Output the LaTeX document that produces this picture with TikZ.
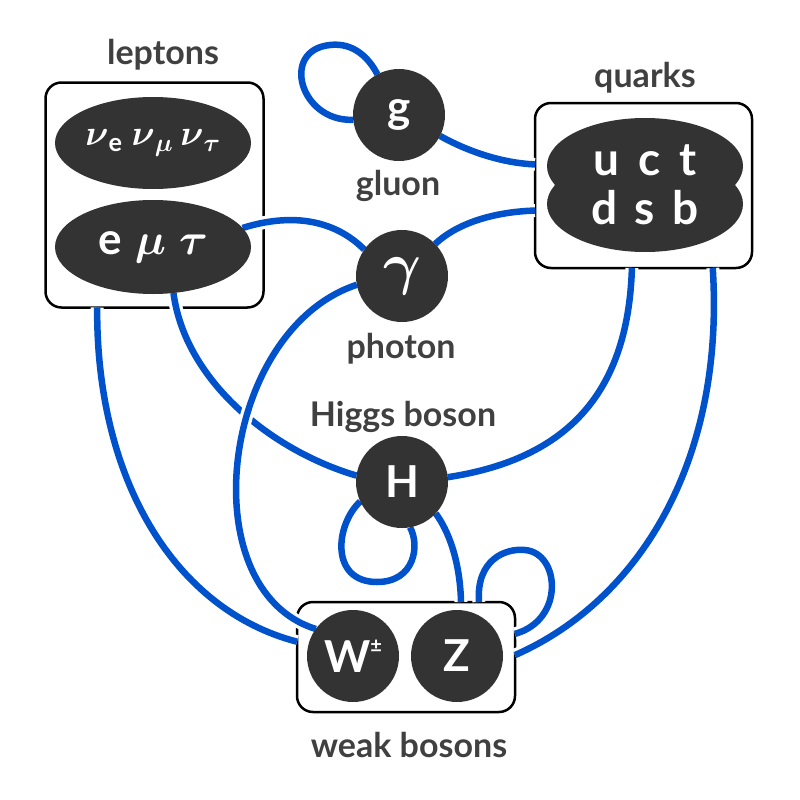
\RequirePackage{fix-cm}
\documentclass[tikz,border=0pt]{standalone}
\usepackage{amsmath}
\usepackage{fontspec}
\setmainfont{Lato}
\usetikzlibrary{shapes.geometric}
\definecolor{wireblue}{RGB}{0,82,204}
\definecolor{ink}{RGB}{51,51,51}
\definecolor{labelgray}{RGB}{64,64,64}
\pgfdeclarelayer{boxlayer}
\pgfdeclarelayer{wirelayer}
\pgfsetlayers{boxlayer,wirelayer,main}
\begin{document}
\begin{tikzpicture}[x=1pt,y=-1pt,
  box/.style={draw=black, line width=2.5pt, fill=white, rounded corners=16pt, inner sep=0pt, outer sep=0pt},
  ball/.style={circle, fill=ink, minimum size=92pt, inner sep=0pt, outer sep=0pt, text=white, font=\bfseries\fontsize{44}{50}\selectfont},
  egg/.style={ellipse, fill=ink, minimum width=196pt, inner sep=0pt, outer sep=0pt, text=white, font=\bfseries\fontsize{44}{50}\selectfont},
  eggtext/.style={text=white, inner sep=0pt, font=\bfseries\fontsize{46}{52}\selectfont},
  lbl/.style={text=labelgray, font=\bfseries\fontsize{34}{40}\selectfont, inner sep=0pt},
  wire/.style={draw=wireblue, line width=6.5pt, preaction={draw=white, line width=13pt}}]
\begin{pgfonlayer}{boxlayer}
\fill[white] (0,0) rectangle (800,800);
\useasboundingbox (0,0) rectangle (800,800);
\node[box, minimum width=218pt, minimum height=225pt] (lep) at (154.5,195) {};
\node[box, minimum width=217pt, minimum height=165pt] (qk) at (643.5,185.5) {};
\node[box, minimum width=218pt, minimum height=110pt] (wb) at (406,657) {};
\end{pgfonlayer}
% lepton ellipses
\node[egg, minimum height=92pt] (nu) at (153,143) {};
\node[eggtext, font=\bfseries\fontsize{36}{44}\selectfont] (nut) at (153,143) {$\boldsymbol{\nu}_{\text{e}}\hspace{0.25em}\boldsymbol{\nu}_{\boldsymbol{\mu}}\hspace{0.2em}\boldsymbol{\nu}_{\boldsymbol{\tau}}$};
\node[egg, minimum height=94pt] (el) at (153,247) {e\hspace{0.3em}$\boldsymbol{\mu}$\hspace{0.3em}$\boldsymbol{\tau}$};
% quark blob
\node[egg, minimum height=96pt] (qu) at (645,166) {};
\node[egg, minimum height=96pt] (qd) at (645,204) {};
\node[eggtext] (qut) at (645,160) {u\hspace{0.42em}c\hspace{0.42em}t};
\node[eggtext] (qdt) at (645,208) {d\hspace{0.38em}s\hspace{0.38em}b};
% bosons
\node[ball] (g) at (399,115) {g};
\node[ball] (ph) at (402,276) {\fontsize{58}{60}\selectfont$\boldsymbol{\gamma}$};
\node[ball] (H) at (402,482) {H};
\node[ball] (W) at (353,656) {W\raisebox{0.45em}{\fontsize{20}{22}\selectfont ±}};
\node[ball] (Z) at (457,656) {Z};
% labels
\node[lbl] (lepl) at (163,55) {leptons};
\node[lbl] (qkl) at (645,78) {quarks};
\node[lbl] (gl) at (398,186) {gluon};
\node[lbl] (phl) at (401,349) {photon};
\node[lbl] (hl) at (403,417) {Higgs boson};
\node[lbl] (wbl) at (409,745) {weak bosons};
% wires
\begin{pgfonlayer}{wirelayer}
\draw[wire] (el.294) .. controls (185,380) and (270,450) .. (H.172);
\draw[wire] (lep.243.3) .. controls (96,480) and (175,610) .. (wb.172.7);
\draw[wire] (el.12) .. controls (300,210) and (340,225) .. (ph.145);
\draw[wire] (ph.191) .. controls (220,330) and (190,590) .. (W.144);
\draw[wire] (ph.44) .. controls (455,225) and (490,212) .. (qk.193.7);
\draw[wire] (g.333) .. controls (465,150) and (500,163) .. (qk.169.3);
\draw[wire] (g.186) .. controls (300,122) and (280,50) .. (330,45) .. controls (355,42) and (370,60) .. (g.118);
\draw[wire] (qk.262.7) .. controls (628,400) and (560,460) .. (H.6);
\draw[wire] (wb.1) .. controls (640,600) and (725,460) .. (qk.310.1);
\draw[wire] (H.317) .. controls (448,530) and (460,560) .. (wb.45.5);
\draw[wire] (wb.37.4) .. controls (476,560) and (505,548) .. (525,550) .. controls (560,553) and (565,620) .. (wb.12.9);
\draw[wire] (H.205) .. controls (335,525) and (330,582) .. (377,582) .. controls (415,582) and (420,545) .. (H.280);
\end{pgfonlayer}
\end{tikzpicture}
\end{document}
